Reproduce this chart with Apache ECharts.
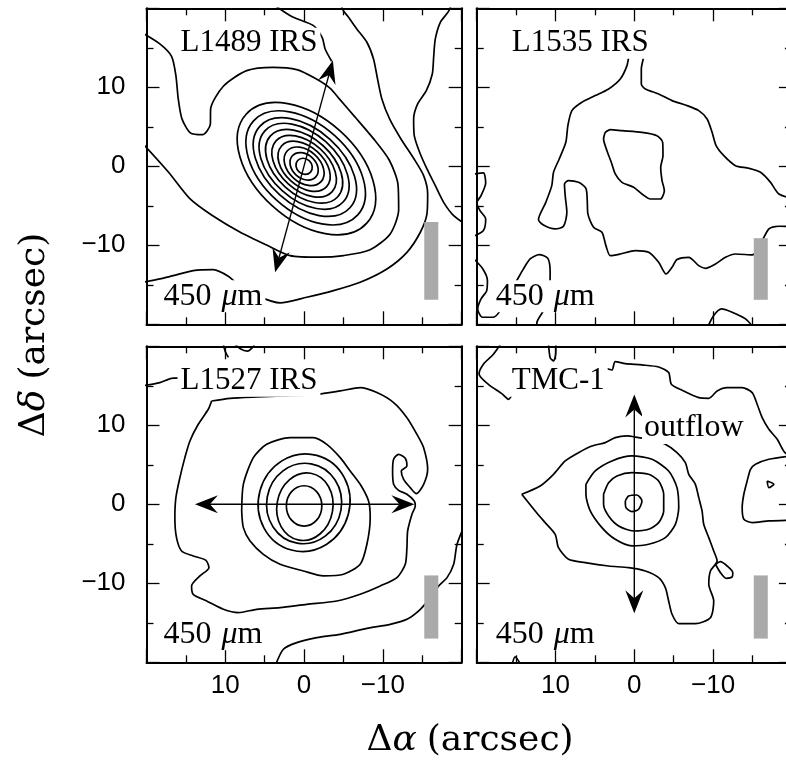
<!DOCTYPE html>
<html lang="en">
<head>
<meta charset="UTF-8">
<title>450 micron maps</title>
<script src="https://cdn.jsdelivr.net/npm/echarts@6/dist/echarts.min.js"></script>
<style>
  * { margin: 0; padding: 0; }
  body { background: #fff; }
  #chart { width: 786px; height: 768px; }
</style>
</head>
<body>
<div id="chart"></div>
<script>
// ---- data: offsets in arcsec ----
const panelNames = ['L1489 IRS', 'L1535 IRS', 'L1527 IRS', 'TMC-1'];

// nested elliptical contours of L1489 IRS: [cx, cy, a, b, tilt deg]
const l1489Rings = [
  [0, 0, 1.1, 0.95, 42], [0, 0, 2.0, 1.5, 42], [0, 0, 2.9, 2.0, 42],
  [0, 0, 3.85, 2.5, 42], [0, 0, 4.8, 3.0, 42], [0, 0, 5.75, 3.55, 42],
  [0, 0, 6.7, 4.15, 42], [-0.1, -0.1, 7.7, 4.75, 42], [-0.2, -0.2, 8.9, 5.5, 42],
  [-0.3, -0.3, 10.3, 6.4, 42]
];
const l1489Contours = [
  [[20.5,16.85],[18.31,15.49],[16.82,13.92],[16.27,11.48],[15.97,8.52],[15.5,6.0],[14.4,4.2],[12.9,4.0],[11.9,5.3],[11.86,7.26],[10.25,10.13],[7.29,12.11],[3.9,12.53],[0.93,12.24],[-1.4,11.14],[-3.31,9.87],[-4.5,8.5],[-6.5,6.2],[-8.8,3.5],[-10.8,0.8],[-11.9,-2.2],[-12.0,-5.5],[-10.9,-8.6],[-8.3,-10.6],[-5.0,-11.3],[-2.0,-11.5],[1.8,-11.3],[4.7,-10.0],[8.1,-8.35],[11.7,-6.2],[14.5,-4.1],[17.2,-0.76],[20.5,2.9]],
  [[3.9,20.5],[2.6,19.6],[1.36,18.86],[-1.19,17.81],[-2.3,16.3],[-2.67,14.85],[-3.5,13.3]],
  [[-4.79,20.5],[-4.79,20.13],[-5.64,18.86],[-6.69,17.38],[-7.97,15.7],[-8.81,13.59],[-9.32,11.05],[-9.87,8.52],[-10.85,5.99],[-12.29,3.46],[-13.9,1.01],[-15.17,-1.18],[-15.68,-3.5],[-15.59,-6.03],[-14.75,-8.35],[-13.05,-10.89],[-10.51,-13.0],[-7.12,-14.68],[-3.73,-15.74],[-0.34,-16.58],[3.05,-17.3],[6.02,-16.37],[8.14,-15.19],[9.62,-13.92],[11.53,-13.08],[14.07,-13.21],[16.61,-13.84],[18.31,-14.26],[20.5,-14.7]],
  [[-18.56,20.5],[-18.56,20.13],[-17.29,18.23],[-16.65,16.12],[-16.44,13.8],[-16.27,11.69],[-15.51,9.58],[-14.41,7.89],[-13.9,5.99],[-13.98,3.88],[-14.66,1.77],[-15.59,-0.34],[-16.65,-2.45],[-17.71,-4.56],[-18.98,-6.24],[-20.5,-7.3]]
];

const l1535Contours = [
  [[3.69,4.3],[3.05,4.64],[1.57,4.51],[-0.97,4.3],[-2.88,3.88],[-3.6,3.04],[-3.64,1.35],[-3.35,-0.13],[-3.52,-1.81],[-3.81,-3.08],[-3.31,-4.14],[-2.03,-4.14],[-0.97,-3.5],[0.08,-2.66],[1.57,-2.03],[2.42,-0.97],[2.92,0.51],[3.47,1.98],[3.9,3.46],[3.69,4.3]],
  [[-20.5,-4.2],[-18.35,-3.5],[-17.29,-2.03],[-16.02,-0.76],[-14.53,-0.25],[-12.84,0.08],[-11.36,1.35],[-10.38,2.62],[-9.87,4.3],[-9.24,5.99],[-8.18,7.05],[-6.48,7.76],[-4.79,8.31],[-3.09,9.16],[-1.4,9.79],[-0.89,10.42],[-0.89,12.32],[-1.19,14.01],[0.08,16.12],[0.64,14.22],[0.93,12.74],[1.78,11.05],[3.26,9.79],[4.96,8.95],[6.65,8.1],[7.92,7.05],[8.43,5.15],[8.69,3.04],[9.53,0.93],[10.25,-0.76],[10.47,-2.45],[11.23,-4.56],[12.16,-6.75],[11.53,-7.43],[10.04,-7.93],[8.98,-7.59],[8.56,-5.82],[8.77,-3.71],[8.86,-2.24],[8.35,-1.81],[7.08,-2.03],[6.14,-2.78],[5.97,-4.35],[5.89,-6.03],[5.17,-7.72],[4.11,-8.35],[3.6,-10.04],[3.05,-11.31],[1.78,-11.1],[-0.13,-10.68],[-1.82,-10.89],[-3.09,-12.15],[-4.03,-13.63],[-4.79,-12.78],[-5.42,-11.81],[-6.91,-11.52],[-8.18,-12.57],[-9.03,-12.91],[-10.3,-12.36],[-11.57,-11.52],[-12.84,-11.1],[-14.96,-11.22],[-17.08,-7.93],[-18.35,-7.59],[-20.5,-7.64]],
  [[20.5,-1.0],[19.15,-0.84],[18.86,-2.11],[19.45,-3.71],[20.0,-4.64],[19.58,-5.61],[18.86,-6.67],[19.15,-8.14],[20.5,-8.9]],
  [[20.5,-11.6],[19.28,-12.91],[18.64,-14.47],[18.73,-15.74],[19.45,-16.79],[19.87,-18.06],[19.28,-19.11],[17.88,-19.11],[17.03,-18.27],[16.4,-16.79]],
  [[12.37,-20.5],[12.37,-19.83],[11.53,-18.27],[10.81,-16.37],[10.68,-13.42],[10.97,-11.65],[12.08,-11.18],[13.22,-11.73],[14.07,-12.99],[14.92,-14.47],[15.55,-15.53]],
  [[-9.24,-20.5],[-10.08,-18.9],[-11.06,-18.06],[-12.42,-18.48],[-14.11,-19.32],[-15.2,-20.5]]
];

// inner contours of L1527 IRS as ellipses: [cx, cy, a, b, tilt deg]
const l1527Rings = [
  [0, -0.2, 2.25, 2.55, 0], [-0.1, -0.3, 3.55, 4.3, 10], [0, 0.1, 4.75, 5.1, 10], [0, 0.2, 5.8, 6.2, 15]
];
const l1527Contours = [
  [[7.92,-0.84],[7.71,2.53],[6.44,5.91],[4.75,7.59],[1.78,8.44],[-1.19,8.44],[-2.88,7.59],[-4.58,5.91],[-5.85,4.22],[-7.12,2.53],[-8.18,0.42],[-8.39,-1.69],[-7.97,-5.06],[-7.12,-7.59],[-5.0,-8.86],[-2.46,-9.07],[0.08,-8.44],[3.05,-7.59],[5.17,-6.33],[6.86,-4.64],[7.71,-2.95],[7.92,-0.84]],
  [[11.74,13.08],[9.41,13.42],[6.02,13.59],[2.63,13.71],[-1.61,13.92],[-4.58,14.35],[-7.12,14.77],[-9.24,14.14],[-11.36,12.87],[-13.05,10.97],[-14.32,8.86],[-15.17,7.17],[-15.68,4.43],[-15.17,2.53],[-14.24,1.35],[-13.47,2.11],[-12.63,3.16],[-12.33,4.22],[-13.05,4.85],[-12.84,5.82],[-11.99,6.33],[-11.36,5.7],[-11.23,4.22],[-11.36,2.53],[-11.99,1.77],[-13.05,1.27],[-13.98,0.42],[-14.11,-0.21],[-13.69,-1.27],[-13.14,-3.38],[-13.05,-5.49],[-12.84,-7.59],[-11.78,-9.28],[-9.66,-10.34],[-7.12,-11.39],[-4.15,-12.24],[-0.34,-12.66],[3.05,-13.08],[6.02,-13.29],[8.35,-13.71],[10.25,-13.29],[12.37,-12.24],[14.07,-11.39],[14.28,-10.34],[13.22,-9.07],[12.08,-8.02],[12.46,-7.09],[14.07,-6.54],[15.55,-5.91],[16.19,-4.22],[16.4,-1.69],[16.27,0.84],[15.76,3.38],[15.13,5.91],[14.49,8.02],[13.43,10.13],[12.16,12.03],[11.74,13.08]],
  [[-20.5,-2.32],[-19.41,-5.06],[-18.98,-7.59],[-18.14,-9.28],[-17.08,-10.34],[-16.02,-11.81],[-14.75,-13.29],[-13.05,-14.56],[-10.93,-15.19],[-7.97,-15.7],[-4.58,-16.46],[-1.61,-16.88],[0.93,-17.51],[2.63,-18.35],[3.69,-20.5]],
  [[20.5,15.0],[18.31,15.4],[16.82,15.95],[15.0,16.0]],
  [[10.3,20.5],[10.0,19.3],[9.6,18.6]],
  [[9.0,20.5],[8.1,19.7],[7.2,19.4],[6.5,19.9],[6.2,20.5]]
];

const tmc1Contours = [
  [[1.14,0.42],[0.72,1.05],[-0.34,1.18],[-0.97,0.42],[-0.55,-0.63],[0.3,-0.93],[1.06,-0.42],[1.14,0.42]],
  [[3.9,1.27],[3.26,2.74],[2.2,3.59],[0.3,4.01],[-1.82,3.8],[-3.09,2.95],[-3.73,1.27],[-3.73,-0.84],[-3.09,-2.32],[-1.82,-3.16],[0.08,-3.38],[1.99,-2.74],[3.26,-1.48],[3.9,0],[3.9,1.27]],
  [[6.14,2.53],[4.96,4.22],[2.84,5.49],[0.3,6.12],[-2.25,5.7],[-4.36,4.22],[-5.42,2.11],[-5.64,-0.42],[-5.21,-2.53],[-3.94,-4.22],[-1.82,-5.06],[0.3,-5.27],[2.42,-4.43],[4.11,-2.95],[5.59,-0.84],[6.14,1.27],[6.14,2.53]],
  [[14.28,1.27],[11.95,2.32],[10.25,3.8],[8.77,5.49],[7.08,6.54],[5.38,7.38],[3.69,7.81],[2.42,8.44],[0.93,8.65],[-0.55,8.44],[-2.03,8.23],[-3.94,7.59],[-5.42,6.54],[-6.48,5.27],[-6.91,3.8],[-7.75,2.53],[-8.18,0.84],[-8.6,-0.84],[-8.81,-2.53],[-9.45,-4.22],[-10.08,-5.91],[-10.51,-7.17],[-9.66,-8.44],[-9.45,-10.13],[-10.08,-12.24],[-9.66,-14.35],[-7.75,-15.11],[-5.64,-15.11],[-4.79,-13.92],[-4.36,-12.24],[-3.94,-10.55],[-3.09,-9.28],[-1.4,-8.44],[0.72,-8.02],[3.26,-7.81],[6.23,-7.38],[8.35,-6.96],[9.62,-5.49],[10.04,-3.8],[11.31,-2.32],[12.58,-0.84],[14.28,1.27]],
  [[-10.3,-7.59],[-10.93,-7.26],[-11.78,-7.81],[-12.5,-8.65],[-12.42,-9.2],[-11.65,-9.37],[-10.93,-8.65],[-10.3,-7.59]],
  [[-20.5,6.2],[-17.08,5.7],[-15.38,5.06],[-14.75,4.43],[-14.32,2.95],[-13.9,1.27],[-13.69,-0.42],[-13.9,-1.9],[-14.96,-2.32],[-17.08,-2.11],[-20.5,-2.0]],
  [[-16.86,2.95],[-17.71,2.53],[-17.08,2.11],[-16.86,2.95]],
  [[16.82,20.5],[17.88,18.99],[19.15,17.72],[19.7,16.5],[18.52,15.19],[16.82,14.01],[15.97,13.29],[14.7,15.19],[8.35,17.3],[3.69,17.22],[2.84,17.0],[2.42,18.06],[1.14,17.81],[-0.97,17.64],[-3.09,17.38],[-4.36,16.67],[-4.7,15.19],[-6.06,14.43],[-8.18,13.5],[-9.45,13.42],[-10.51,14.35],[-11.78,14.77],[-13.69,14.77],[-14.96,14.14],[-15.59,12.66],[-16.23,10.97],[-17.08,9.49],[-18.14,8.23],[-19.11,6.54],[-20.5,5.9]],
  [[10.89,20.5],[10.68,18.57],[10.25,18.14],[9.96,19.2],[9.96,20.5]],
  [[15.55,-20.5],[15.13,-19.32],[14.28,-20.5]]
];

// double arrows (outflow axes): [x1, y1, x2, y2], one per panel (null = none)
const outflowArrows = [[-3.65, 13.4, 3.68, -13.4], null, [13.85, 0, -14.0, 0], [0, 13.9, 0, -13.8]];
// grey scale bars: [x1, y1, x2, y2]
const scaleBars = [[-15.25, -7.05, -17.03, -16.9], [-15.16, -9.1, -16.94, -16.9], [-15.25, -9.0, -17.03, -17.0], [-15.16, -9.0, -16.94, -17.0]];
const ringSets = [l1489Rings, [], l1527Rings, []];
const contourSets = [l1489Contours, l1535Contours, l1527Contours, tmc1Contours];

// ---- layout ----
const boxes = [
  { left: 146.5, top: 8.3 }, { left: 476.7, top: 8.3 },
  { left: 146.5, top: 346.3 }, { left: 476.7, top: 346.3 }
];
const PW = 315.2, PH = 316;
const SERIF = '"Liberation Serif", "DejaVu Serif", serif';
const SANS = '"Liberation Sans", Arial, sans-serif';

function tickFmt(v) {
  if (Math.abs(v) >= 20) return '';
  return v < 0 ? '\u2212' + (-v) : String(v);
}

function renderEllipse(params, api) {
  const cx = api.value(0), cy = api.value(1), a = api.value(2), b = api.value(3);
  const t = api.value(4) * Math.PI / 180;
  const c = api.coord([cx, cy]);
  const pa = api.coord([cx + a * Math.cos(t), cy + a * Math.sin(t)]);
  const pb = api.coord([cx - b * Math.sin(t), cy + b * Math.cos(t)]);
  const rx = Math.hypot(pa[0] - c[0], pa[1] - c[1]);
  const ry = Math.hypot(pb[0] - c[0], pb[1] - c[1]);
  const ang = Math.atan2(pa[1] - c[1], pa[0] - c[0]);
  return {
    type: 'ellipse', x: c[0], y: c[1], rotation: -ang,
    shape: { cx: 0, cy: 0, rx: rx, ry: ry },
    style: { fill: null, stroke: '#000', lineWidth: 1.7 }
  };
}

function renderArrow(params, api) {
  const p1 = api.coord([api.value(0), api.value(1)]);
  const p2 = api.coord([api.value(2), api.value(3)]);
  const dx = p2[0] - p1[0], dy = p2[1] - p1[1], len = Math.hypot(dx, dy);
  const ux = dx / len, uy = dy / len, nx = -uy, ny = ux;
  const L = 23, W = 9, N = 8;
  function head(tip, sx, sy) {
    return [
      [tip[0], tip[1]],
      [tip[0] - sx * L + nx * W, tip[1] - sy * L + ny * W],
      [tip[0] - sx * (L - N), tip[1] - sy * (L - N)],
      [tip[0] - sx * L - nx * W, tip[1] - sy * L - ny * W]
    ];
  }
  return {
    type: 'group',
    children: [
      { type: 'line', shape: { x1: p1[0] + ux * (L - N), y1: p1[1] + uy * (L - N), x2: p2[0] - ux * (L - N), y2: p2[1] - uy * (L - N) },
        style: { stroke: '#000', lineWidth: 1.4 } },
      { type: 'polygon', shape: { points: head(p2, ux, uy) }, style: { fill: '#000' } },
      { type: 'polygon', shape: { points: head(p1, -ux, -uy) }, style: { fill: '#000' } }
    ]
  };
}

function renderBar(params, api) {
  const a = api.coord([api.value(0), api.value(1)]);
  const b = api.coord([api.value(2), api.value(3)]);
  return {
    type: 'rect',
    shape: { x: Math.min(a[0], b[0]), y: Math.min(a[1], b[1]), width: Math.abs(a[0] - b[0]), height: Math.abs(a[1] - b[1]) },
    style: { fill: '#aaaaaa' }
  };
}

const grid = [], xAxis = [], yAxis = [], series = [], graphic = [];
const tickStyle = { show: true, inside: true, length: 13, lineStyle: { color: '#000', width: 1.3 } };
const minorStyle = { show: true, splitNumber: 2, length: 7, lineStyle: { color: '#000', width: 1.3 } };
const lineStyle = { show: true, onZero: false, lineStyle: { color: '#000', width: 2 } };

boxes.forEach(function (b, i) {
  grid.push({ left: b.left, top: b.top, width: PW, height: PH, outerBoundsMode: 'none', containLabel: false });
  const bottomRow = i >= 2, leftCol = i % 2 === 0;
  ['bottom', 'top'].forEach(function (pos) {
    xAxis.push({
      type: 'value', gridIndex: i, position: pos, inverse: true, min: -20, max: 20, interval: 10,
      axisLine: lineStyle, axisTick: tickStyle, minorTick: minorStyle, splitLine: { show: false },
      axisLabel: { show: pos === 'bottom' && bottomRow, formatter: tickFmt, margin: 11,
        fontFamily: SANS, fontSize: 26, color: '#000' }
    });
  });
  ['left', 'right'].forEach(function (pos) {
    yAxis.push({
      type: 'value', gridIndex: i, position: pos, min: -20, max: 20, interval: 10,
      axisLine: lineStyle, axisTick: tickStyle, minorTick: minorStyle, splitLine: { show: false },
      axisLabel: { show: pos === 'left' && leftCol, formatter: tickFmt, margin: 21,
        fontFamily: SANS, fontSize: 26, color: '#000' }
    });
  });

  contourSets[i].forEach(function (pts) {
    series.push({
      type: 'line', xAxisIndex: 2 * i, yAxisIndex: 2 * i, data: pts, showSymbol: false, symbol: 'none',
      smooth: 0.25, clip: true, silent: true,
      lineStyle: { color: '#000', width: 1.7 }, z: 2
    });
  });
  if (ringSets[i].length) {
    series.push({ type: 'custom', xAxisIndex: 2 * i, yAxisIndex: 2 * i, data: ringSets[i], renderItem: renderEllipse, clip: true, z: 2 });
  }
  series.push({ type: 'custom', xAxisIndex: 2 * i, yAxisIndex: 2 * i, data: [scaleBars[i]], renderItem: renderBar, z: 3 });
  if (outflowArrows[i]) {
    series.push({ type: 'custom', xAxisIndex: 2 * i, yAxisIndex: 2 * i, data: [outflowArrows[i]], renderItem: renderArrow, z: 4 });
  }

  // panel name and wavelength labels (white boxes mask contours, as in the original)
  graphic.push({
    type: 'text', x: b.left + (leftCol ? 31 : 32), y: b.top + 35, z: 100,
    style: { text: panelNames[i], fontFamily: SERIF, fontSize: 31, fill: '#000', verticalAlign: 'middle',
      backgroundColor: '#fff', padding: [0, 3] }
  });
  graphic.push({
    type: 'text', x: b.left + (leftCol ? 14 : 16), y: b.top + 288, z: 100,
    style: { text: '{n|450}   {m|μ}{n|m}', verticalAlign: 'middle', backgroundColor: '#fff', padding: [0, 3],
      rich: {
        n: { fontFamily: SERIF, fontSize: 32, fill: '#000' },
        m: { fontFamily: SERIF, fontSize: 32, fontStyle: 'italic', fill: '#000' }
      } }
  });
});

graphic.push({
  type: 'text', x: 642, y: 428, z: 100,
  style: { text: 'outflow', fontFamily: SERIF, fontSize: 32, fill: '#000', verticalAlign: 'middle',
    backgroundColor: '#fff', padding: [0, 2] }
});
graphic.push({
  type: 'text', x: 470, y: 741, z: 100,
  style: { text: '{n|Δ}{i|α}   {n|(arcsec)}', align: 'center', verticalAlign: 'middle',
    rich: {
      n: { fontFamily: '"DejaVu Serif", serif', fontSize: 36, fill: '#000' },
      i: { fontFamily: '"DejaVu Serif", serif', fontSize: 36, fontStyle: 'italic', fill: '#000' }
    } }
});
graphic.push({
  type: 'text', x: 35, y: 335, rotation: Math.PI / 2, z: 100,
  style: { text: '{n|Δ}{i|δ}   {n|(arcsec)}', align: 'center', verticalAlign: 'middle',
    rich: {
      n: { fontFamily: '"DejaVu Serif", serif', fontSize: 36, fill: '#000' },
      i: { fontFamily: '"DejaVu Serif", serif', fontSize: 36, fontStyle: 'italic', fill: '#000' }
    } }
});

const chart = echarts.init(document.getElementById('chart'), null, { renderer: 'canvas' });
chart.setOption({
  backgroundColor: '#fff',
  animation: false,
  grid: grid,
  xAxis: xAxis,
  yAxis: yAxis,
  series: series,
  graphic: graphic
});
</script>
</body>
</html>
